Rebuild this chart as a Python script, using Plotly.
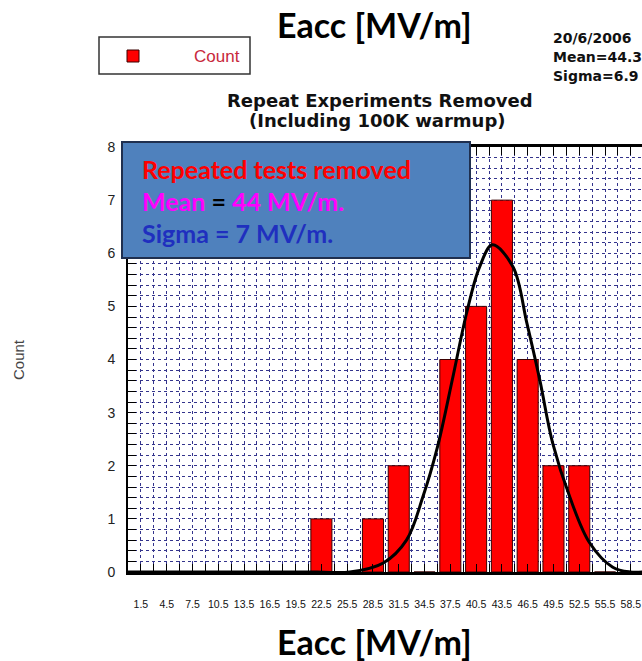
import plotly.graph_objects as go

# ---- data ----
bin_centers = [1.5, 4.5, 7.5, 10.5, 13.5, 16.5, 19.5, 22.5, 25.5, 28.5,
               31.5, 34.5, 37.5, 40.5, 43.5, 46.5, 49.5, 52.5, 55.5, 58.5]
tick_labels = ["1.5", "4.5", "7.5", "10.5", "13.5", "16.5", "19.5", "22.5", "25.5", "28.5",
               "31.5", "34.5", "37.5", "40.5", "43.5", "46.5", "49.5", "52.5", "55.5", "58.5"]
counts = [0, 0, 0, 0, 0, 0, 0, 1, 0, 1,
          2, 0, 4, 5, 7, 4, 2, 2, 0, 0]

# fitted gaussian curve
curve_x = [0, 22.0, 25.8, 29.7, 32.4, 34.3, 36.0, 37.8, 39.4, 40.9, 42.4,
           44.8, 46.4, 47.9, 49.4, 51.4, 53.7, 56.4, 58.4, 60.0]
curve_y = [0, 0, 0, 0.17, 0.60, 1.41, 2.35, 3.67, 4.88, 5.74, 6.16,
           5.74, 4.69, 3.62, 2.43, 1.41, 0.55, 0.09, 0, 0]

W, H = 642, 661
L, R, T, B = 128, 0, 147, 89
pw, ph = W - L - R, H - T - B


def px(x):
    return (x - L) / pw


def py(y):
    return (H - B - y) / ph


grid_col = "#34348c"

fig = go.Figure()
fig.add_trace(go.Bar(
    x=bin_centers, y=counts, width=2.45, name="Count",
    marker=dict(color="#ff0000", line=dict(color="#3a0000", width=1)),
    showlegend=False,
))
fig.add_trace(go.Scatter(
    x=curve_x, y=curve_y, mode="lines", line=dict(color="black", width=3, shape="spline"),
    showlegend=False,
))

fig.update_layout(
    width=W, height=H,
    margin=dict(l=L, r=R, t=T, b=B),
    paper_bgcolor="white", plot_bgcolor="white",
    font=dict(family="Liberation Sans", color="black"),
    bargap=0,
)
fig.update_xaxes(
    range=[0, 59.8], tickmode="array", tickvals=bin_centers, ticktext=tick_labels,
    tickfont=dict(size=10.5, family="Liberation Sans", color="#111"),
    ticks="inside", ticklen=8, tickcolor="black", ticklabelstandoff=20,
    showline=True, linecolor="black", linewidth=3, mirror="allticks",
    showgrid=True, gridcolor=grid_col, griddash="dot", gridwidth=1,
    minor=dict(tickmode="linear", tick0=0, dtick=1.5, showgrid=True, gridcolor=grid_col,
               griddash="dot", gridwidth=1, ticks="inside", ticklen=8, tickcolor="black"),
    zeroline=False, fixedrange=True,
)
fig.update_yaxes(
    range=[0, 8], dtick=1, tick0=0,
    tickfont=dict(size=14, family="Liberation Sans", color="#222"),
    ticks="inside", ticklen=8, tickcolor="black", ticklabelstandoff=8,
    showline=True, linecolor="black", linewidth=2,
    showgrid=True, gridcolor=grid_col, griddash="dot", gridwidth=1,
    minor=dict(dtick=0.2, showgrid=True, gridcolor=grid_col, griddash="dot", gridwidth=1,
               ticks="inside", ticklen=8, tickcolor="black"),
    zeroline=False, fixedrange=True,
)

shapes = []
# blue text box
shapes.append(dict(type="rect", xref="paper", yref="paper",
                   x0=px(122), x1=px(470), y0=py(258), y1=py(142),
                   fillcolor="#4f81bd", line=dict(color="#1f2f4f", width=2), layer="above"))
# legend box
shapes.append(dict(type="rect", xref="paper", yref="paper",
                   x0=px(99), x1=px(250), y0=py(74), y1=py(37),
                   fillcolor="white", line=dict(color="#333", width=1.5), layer="above"))
shapes.append(dict(type="rect", xref="paper", yref="paper",
                   x0=px(127), x1=px(139), y0=py(62), y1=py(50),
                   fillcolor="#ff0000", line=dict(color="#3a0000", width=1), layer="above"))
fig.update_layout(shapes=shapes)

ann = []


def add(text, x, y, size, color="black", family="Liberation Sans", xanchor="center", **kw):
    ann.append(dict(text=text, xref="paper", yref="paper", x=px(x), y=py(y),
                    xanchor=xanchor, yanchor="middle", showarrow=False,
                    font=dict(size=size, color=color, family=family), **kw))


add("<b>Eacc [MV/m]</b>", 374, 24, 34, family="Lato")
add("<b>Eacc [MV/m]</b>", 374, 641, 34, family="Lato")
add("<b>Repeat Experiments Removed</b>", 380, 100, 18, color="#111", family="DejaVu Sans")
add("<b>(Including 100K warmup)</b>", 377, 121, 18, color="#111", family="DejaVu Sans")
add("<b>20/6/2006</b>", 551, 38, 14, color="#111", family="DejaVu Sans", xanchor="left")
add("<b>Mean=44.3</b>", 551, 57, 14, color="#111", family="DejaVu Sans", xanchor="left")
add("<b>Sigma=6.9</b>", 551, 76, 14, color="#111", family="DejaVu Sans", xanchor="left")
add("Count", 217, 56, 17, color="#c8283c", family="Liberation Sans")
add("Count", 18, 360, 15, color="#444", family="Liberation Sans", textangle=-90)
add("<b>Repeated tests removed</b>", 140, 169, 25, color="#ff0000", family="Lato", xanchor="left")
add("<b><span style='color:#ff00ff'>Mean</span> = <span style='color:#ff00ff'>44 MV/m.</span></b>",
    140, 201, 25, color="black", family="Lato", xanchor="left")
add("<b>Sigma = 7 MV/m.</b>", 140, 233, 25, color="#1f2fbf", family="Lato", xanchor="left")
fig.update_layout(annotations=ann)

fig.write_html("out.html", config={"displayModeBar": False, "staticPlot": True},
               post_script="document.body.style.margin='0';document.body.style.overflow='hidden';")
